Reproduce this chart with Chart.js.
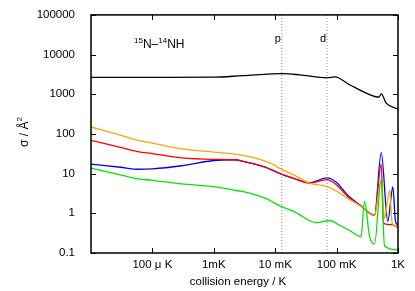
<!DOCTYPE html>
<html>
<head>
<meta charset="utf-8">
<script src="https://cdn.jsdelivr.net/npm/chart.js@4"></script>
<style>
  html, body { margin: 0; padding: 0; background: #fff; }
  canvas { display: block; }
</style>
</head>
<body>
<canvas id="chart" width="415" height="291"></canvas>
<script>
// --- DATA ---

// axis ticks
const xTickValues = [1e-4, 1e-3, 1e-2, 1e-1, 1];
const xTickLabels = ['100 \u03bc K', '1mK', '10 mK', '100 mK', '1K'];
const yTickValues = [0.1, 1, 10, 100, 1000, 10000, 100000];
const yTickLabels = ['0.1', '1', '10', '100', '1000', '10000', '100000'];

// thresholds (vertical dotted lines)
const thresholdEnergies = [0.0128, 0.07];
const thresholdLabels = ['p', 'd'];

// black: elastic
const blackE = [1e-5, 1e-4, 1e-3, 3e-3, 0.0132, 0.025, 0.07, 0.093, 0.163, 0.344, 0.488, 0.533, 0.642, 1];
const blackS = [2660, 2660, 2690, 2950, 3310, 3090, 2600, 2750, 1740, 980, 840, 1020, 600, 420];

// orange
const orangeE = [1e-5, 3e-5, 5.8e-5, 1e-4, 3e-4, 1e-3, 2.2e-3, 3e-3, 6.7e-3, 0.01, 0.0117, 0.02, 0.036, 0.07, 0.1, 0.15, 0.25, 0.415, 0.533, 0.603, 0.727, 0.805, 1];
const orangeS = [150, 93, 69, 59, 42, 35, 31, 29, 21, 16, 13.8, 9.3, 5.8, 4.7, 3.6, 2.4, 1.5, 0.89, 6.8, 0.74, 3.8, 0.56, 0.44];

// red
const redE = [1e-5, 3e-5, 5.8e-5, 1e-4, 3e-4, 1e-3, 2.2e-3, 3e-3, 6.7e-3, 0.0117, 0.02, 0.036, 0.07, 0.1, 0.15, 0.25, 0.415, 0.533, 0.58, 0.79, 1];
const redS = [69, 46, 36, 32, 25, 23, 22.4, 20.4, 14.8, 10.2, 7.6, 5.8, 7.1, 5.2, 2.7, 1.5, 0.89, 17.4, 0.56, 0.52, 0.44];

// blue
const blueE = [1e-5, 3e-5, 5.8e-5, 1e-4, 3e-4, 1e-3, 2.2e-3, 3e-3, 6.7e-3, 0.0117, 0.02, 0.036, 0.07, 0.1, 0.15, 0.25, 0.415, 0.533, 0.682, 0.823, 0.91, 1];
const blueS = [17.4, 14.5, 12.9, 13.2, 15.8, 21.4, 22.4, 20.4, 14.8, 10.2, 7.6, 5.9, 7.8, 6.0, 2.9, 1.55, 0.89, 34, 0.63, 4.6, 0.63, 0.5];

// green
const greenE = [1e-5, 3e-5, 5.8e-5, 1e-4, 3e-4, 1e-3, 2.2e-3, 3e-3, 6.7e-3, 0.0126, 0.02, 0.047, 0.077, 0.112, 0.163, 0.25, 0.285, 0.344, 0.415, 0.533, 0.603, 1];
const greenS = [13.8, 9.3, 7.4, 6.8, 5.5, 4.7, 3.8, 3.5, 2.45, 1.48, 1.12, 0.58, 0.66, 0.5, 0.37, 0.26, 2.0, 0.26, 0.17, 7.4, 0.15, 0.12];

// --- HELPERS ---

const FONT = 'Liberation Sans, Arial, Helvetica, sans-serif';

function toPoints(xs, ys) {
  return xs.map((x, i) => ({ x, y: ys[i] }));
}

function curve(xs, ys, color) {
  return {
    data: toPoints(xs, ys),
    borderColor: color,
    borderWidth: 1.3,
    pointRadius: 0,
    cubicInterpolationMode: 'monotone',
    fill: false
  };
}

function thresholdLine(e) {
  return {
    data: [{ x: e, y: yTickValues[0] }, { x: e, y: yTickValues[yTickValues.length - 1] }],
    borderColor: '#888',
    borderWidth: 1,
    borderDash: [1, 2],
    pointRadius: 0,
    tension: 0
  };
}

// inward ticks, frame and free text (gnuplot look)
const framePlugin = {
  id: 'frame',
  afterDraw(chart) {
    const { ctx, chartArea: a, scales: { x, y } } = chart;
    ctx.save();
    ctx.strokeStyle = '#000';
    ctx.lineWidth = 1;
    ctx.beginPath();
    xTickValues.forEach(v => {
      const px = Math.round(x.getPixelForValue(v)) + 0.5;
      ctx.moveTo(px, a.bottom); ctx.lineTo(px, a.bottom - 5);
      ctx.moveTo(px, a.top); ctx.lineTo(px, a.top + 5);
    });
    yTickValues.forEach(v => {
      const py = Math.round(y.getPixelForValue(v)) + 0.5;
      ctx.moveTo(a.left, py); ctx.lineTo(a.left + 5, py);
      ctx.moveTo(a.right, py); ctx.lineTo(a.right - 5, py);
    });
    ctx.stroke();
    ctx.lineWidth = 1.5;
    ctx.strokeRect(a.left, a.top, a.right - a.left, a.bottom - a.top);

    ctx.fillStyle = '#000';
    ctx.textBaseline = 'alphabetic';

    // threshold labels
    ctx.font = '11px ' + FONT;
    ctx.textAlign = 'right';
    thresholdEnergies.forEach((e, i) => {
      ctx.fillText(thresholdLabels[i], x.getPixelForValue(e) - 1, 42);
    });

    // system label 15N–14NH
    ctx.textAlign = 'left';
    let cx = 134;
    const parts = [['15', true], ['N\u2013', false], ['14', true], ['NH', false]];
    parts.forEach(([t, sup]) => {
      ctx.font = (sup ? '8px ' : '12px ') + FONT;
      ctx.fillText(t, cx, sup ? 43 : 48);
      cx += ctx.measureText(t).width;
    });

    // x axis title
    ctx.font = '11.5px ' + FONT;
    ctx.textAlign = 'center';
    ctx.textBaseline = 'middle';
    ctx.fillText('collision energy / K', 238, 282);

    // y axis title
    ctx.translate(25, 132);
    ctx.rotate(-Math.PI / 2);
    ctx.font = '12px ' + FONT;
    ctx.textAlign = 'left';
    const main = '\u03c3 / \u00c5';
    const w = ctx.measureText(main).width;
    ctx.font = '8px ' + FONT;
    const w2 = ctx.measureText('2').width;
    ctx.font = '12px ' + FONT;
    ctx.fillText(main, -(w + w2) / 2, 0);
    ctx.font = '8px ' + FONT;
    ctx.fillText('2', -(w + w2) / 2 + w, -5);
    ctx.restore();
  }
};

// --- CHART ---

Chart.defaults.font.family = FONT;
Chart.defaults.font.size = 11.5;
Chart.defaults.color = '#000';

new Chart(document.getElementById('chart'), {
  type: 'line',
  data: {
    datasets: [
      thresholdLine(thresholdEnergies[0]),
      thresholdLine(thresholdEnergies[1]),
      curve(greenE, greenS, '#00e800'),
      curve(orangeE, orangeS, '#ffa500'),
      curve(redE, redS, '#ff0000'),
      curve(blueE, blueS, '#0000ff'),
      curve(blackE, blackS, '#000000')
    ]
  },
  options: {
    responsive: false,
    animation: false,
    events: [],
    layout: { padding: { left: 0, top: 13, right: 17, bottom: 0 } },
    plugins: { legend: { display: false }, tooltip: { enabled: false } },
    scales: {
      x: {
        type: 'logarithmic',
        min: 1e-5,
        max: 1,
        grid: { display: false },
        border: { display: false },
        afterBuildTicks: s => { s.ticks = xTickValues.map(v => ({ value: v })); },
        afterFit: s => { s.height = 38; },
        ticks: {
          autoSkip: false,
          maxRotation: 0,
          padding: -3,
          callback: (v, i) => xTickLabels[i]
        }
      },
      y: {
        type: 'logarithmic',
        min: 0.1,
        max: 100000,
        grid: { display: false },
        border: { display: false },
        afterBuildTicks: s => { s.ticks = yTickValues.map(v => ({ value: v })); },
        afterFit: s => { s.width = 91; },
        ticks: {
          autoSkip: false,
          padding: 8,
          callback: (v, i) => yTickLabels[i]
        }
      }
    }
  },
  plugins: [framePlugin]
});
</script>
</body>
</html>
